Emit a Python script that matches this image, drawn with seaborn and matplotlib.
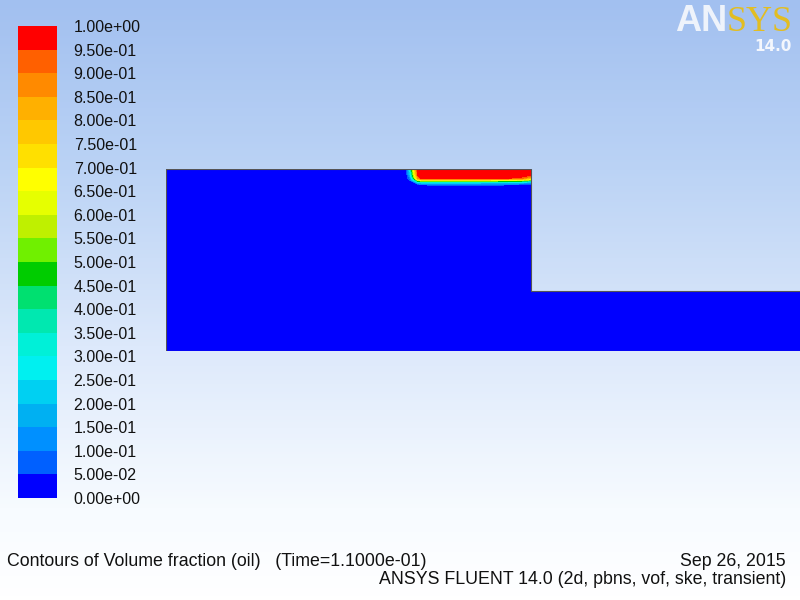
import numpy as np
import matplotlib
matplotlib.use("Agg")
import matplotlib.pyplot as plt
import seaborn as sns
from matplotlib.colors import ListedColormap, BoundaryNorm, LinearSegmentedColormap

# Fluent band colours, 0.00 -> 1.00 (20 bands of 0.05)
band_colors = ["#0000ff", "#0060ff", "#0090ff", "#00b0f2", "#00d0f2",
               "#00f0f0", "#00f0d8", "#00e8b0", "#00e070", "#00cc00",
               "#70f000", "#bff000", "#e6ff00", "#ffff00", "#ffe000",
               "#ffc800", "#ffb000", "#ff8a00", "#ff6000", "#ff0000"]
levels = [0.00, 0.05, 0.10, 0.15, 0.20, 0.25, 0.30, 0.35, 0.40, 0.45, 0.50,
          0.55, 0.60, 0.65, 0.70, 0.75, 0.80, 0.85, 0.90, 0.95, 1.00]

# geometry (mm): tall inlet block + low outlet channel
domain_x = [0.0, 36.5, 36.5, 70.0, 70.0, 0.0, 0.0]
domain_y = [18.2, 18.2, 6.0, 6.0, 0.0, 0.0, 18.2]

# volume fraction of oil near the top wall of the block
oil_x = [24.0, 24.4, 24.8, 25.2, 25.6, 27.0, 30.0, 33.0, 35.5, 36.5]
oil_y = [16.4, 16.6, 16.85, 17.05, 17.25, 17.6, 18.2]
oil_vf = [
    [0.0, 0.00, 0.00, 0.00, 0.00, 0.00, 0.00, 0.00, 0.00, 0.00],
    [0.0, 0.00, 0.00, 0.02, 0.04, 0.07, 0.07, 0.06, 0.03, 0.00],
    [0.0, 0.00, 0.05, 0.20, 0.25, 0.25, 0.25, 0.22, 0.20, 0.15],
    [0.0, 0.05, 0.25, 0.55, 0.65, 0.65, 0.65, 0.60, 0.55, 0.45],
    [0.0, 0.10, 0.45, 0.85, 0.97, 0.98, 0.98, 0.97, 0.92, 0.75],
    [0.0, 0.20, 0.60, 0.96, 1.00, 1.00, 1.00, 1.00, 1.00, 0.96],
    [0.0, 0.30, 0.70, 1.00, 1.00, 1.00, 1.00, 1.00, 1.00, 1.00],
]

sns.set_theme(style="white")
plt.rcParams['font.family'] = ['Liberation Sans', 'DejaVu Sans']

cmap = ListedColormap(band_colors)
norm = BoundaryNorm(levels, cmap.N)

fig = plt.figure(figsize=(8, 6), dpi=100)

# background gradient
bg = fig.add_axes([0, 0, 1, 1], zorder=-5)
bg_cmap = LinearSegmentedColormap.from_list(
    "bg", [(0, "#a2c0f0"), (0.28, "#bbd3f5"), (0.58, "#dde9fb"),
           (0.85, "#f7fbff"), (1, "#ffffff")])
bg.imshow(np.linspace(0, 1, 300).reshape(-1, 1), cmap=bg_cmap, aspect="auto",
          extent=[0, 1, 0, 1], origin="upper")
bg.set_axis_off()

# flow domain
ax = fig.add_axes([166 / 800, 249 / 600, 634 / 800, 182 / 600])
ax.fill(domain_x, domain_y, color=band_colors[0], lw=0)
X, Y = np.meshgrid(oil_x, oil_y)
cf = ax.contourf(X, Y, np.array(oil_vf), levels=levels, cmap=cmap, norm=norm)
ax.plot(domain_x, domain_y, color="#555555", lw=0.8)
ax.set_xlim(0, 63.4)
ax.set_ylim(0, 18.2)
ax.set_axis_off()

# colour bar
cax = fig.add_axes([18 / 800, 102 / 600, 39 / 800, 472 / 600])
cb = fig.colorbar(cf, cax=cax, ticks=levels)
cb.ax.set_yticklabels([f"{v:.2e}" for v in levels])
cb.ax.tick_params(length=0, pad=12, labelsize=11.5, labelcolor="#111111")
cb.outline.set_visible(False)

# captions
fs = 12.8
fig.text(7 / 800, 1 - 566 / 600,
         "Contours of Volume fraction (oil)   (Time=1.1000e-01)",
         fontsize=fs, va="baseline", color="#111111")
fig.text(786 / 800, 1 - 566 / 600, "Sep 26, 2015",
         fontsize=fs, ha="right", va="baseline", color="#111111")
fig.text(786 / 800, 1 - 584 / 600,
         "ANSYS FLUENT 14.0 (2d, pbns, vof, ske, transient)",
         fontsize=fs, ha="right", va="baseline", color="#111111")

# logo
fig.text(727 / 800, 1 - 31 / 600, "AN", family="Liberation Sans", weight="bold",
         fontsize=26, color="#eef3fb", ha="right", va="baseline")
fig.text(727 / 800, 1 - 31 / 600, "SYS", family="Liberation Serif",
         fontsize=26, color="#e2bd22", ha="left", va="baseline")
fig.text(792 / 800, 1 - 51 / 600, "14.0", family="DejaVu Sans", weight="bold",
         fontsize=11, color="#f4f7fd", ha="right", va="baseline")

fig.savefig("out.png", dpi=100)
